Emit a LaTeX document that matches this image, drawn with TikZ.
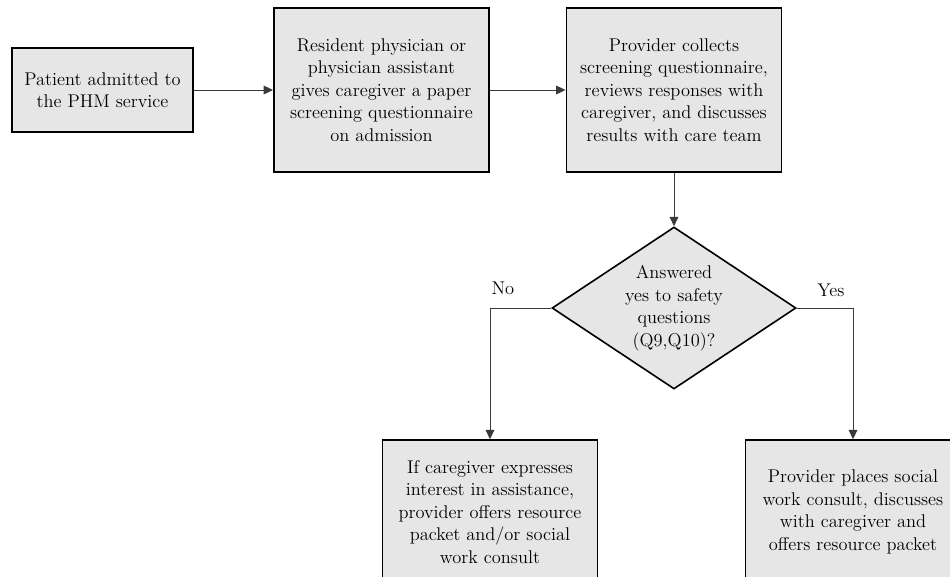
\documentclass[tikz,border=0pt]{standalone}
\usetikzlibrary{shapes.geometric,arrows.meta}

\definecolor{boxgray}{HTML}{E6E6E6}
\definecolor{linegray}{HTML}{3A3A3A}
\def\boxw{161.5pt}
\def\boxh{123pt}

\begin{document}
\begin{tikzpicture}[x=0.75pt,y=-0.75pt,
    stepbox/.style={draw=black,line width=1.2pt,fill=boxgray,align=center,
        inner sep=0pt,font=\fontsize{13.8}{16.9}\selectfont},
    decision/.style={stepbox,diamond,shape aspect=1.5,
        minimum width=183pt,minimum height=121.5pt},
    flow/.style={draw=linegray,line width=0.75pt,-{Triangle[length=7pt,width=6.5pt]}},
    answer/.style={font=\fontsize{13.8}{16.9}\selectfont,inner sep=0pt}]
    \clip (0,0) rectangle (950,576);

    % top row
    \node[stepbox,minimum width=135.75pt,minimum height=63pt] (admit) at (102.5,90)
        {Patient admitted to\\the PHM service};
    \node[stepbox,minimum width=\boxw,minimum height=\boxh] (handout) at (381.5,90)
        {Resident physician or\\physician assistant\\gives caregiver a paper\\screening questionnaire\\on admission};
    \node[stepbox,minimum width=\boxw,minimum height=\boxh] (review) at (674,90)
        {Provider collects\\screening questionnaire,\\reviews responses with\\caregiver, and discusses\\results with care team};

    % decision
    \node[decision] (safety) at (674,308)
        {Answered\\yes to safety\\questions\\(Q9,Q10)?};

    % bottom row (cut by the edge)
    \node[stepbox,minimum width=\boxw,minimum height=108pt] (offer) at (490,512)
        {If caregiver expresses\\interest in assistance,\\provider offers resource\\packet and/or social\\work consult};
    \node[stepbox,minimum width=\boxw,minimum height=108pt] (consult) at (853,512)
        {Provider places social\\work consult, discusses\\with caregiver and\\offers resource packet};

    \node[answer] (no) at (503,288) {No};
    \node[answer] (yes) at (831,290) {Yes};

    \draw[flow] (admit) -- (handout);
    \draw[flow] (handout) -- (review);
    \draw[flow] (review) -- (safety);
    \draw[flow] (safety.west) -| (offer.north);
    \draw[flow] (safety.east) -| (consult.north);
\end{tikzpicture}
\end{document}
